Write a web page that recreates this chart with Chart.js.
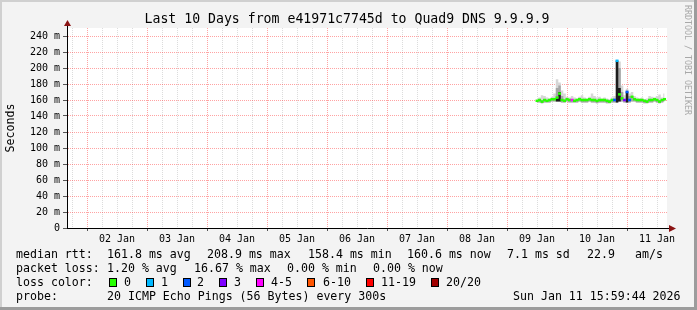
<!DOCTYPE html>
<html>
<head>
<meta charset="utf-8">
<script src="https://cdn.jsdelivr.net/npm/chart.js@4.4.1/dist/chart.umd.min.js"></script>
<style>
body { margin: 0; }
#wrap { position: relative; width: 697px; height: 310px; font-family: 'DejaVu Sans Mono', monospace; }
#wrap .t { position: absolute; font-size: 11.6px; line-height: 14px; white-space: pre; color: #000; }
#wrap .b { position: absolute; top: 278px; width: 6px; height: 7px; border: 1px solid #000; }
#title { position: absolute; left: 0; width: 694px; top: 11px; text-align: center; font-size: 13.2px; line-height: 16px; white-space: pre; color: #000; }
#mark { position: absolute; left: 683px; top: 5px; writing-mode: vertical-rl; font-size: 8.3px; color: #a8a8a8; white-space: pre; }
</style>
</head>
<body>
<div id="wrap">
<canvas id="c" width="697" height="310"></canvas>
<div id="title">Last 10 Days from e41971c7745d to Quad9 DNS 9.9.9.9</div>
<div id="mark">RRDTOOL / TOBI OETIKER</div>

<span class="t" style="left:16px;top:247px">median rtt:</span>
<span class="t" style="left:107px;top:247px">161.8 ms avg</span>
<span class="t" style="left:207px;top:247px">208.9 ms max</span>
<span class="t" style="left:308px;top:247px">158.4 ms min</span>
<span class="t" style="left:407px;top:247px">160.6 ms now</span>
<span class="t" style="left:507px;top:247px">7.1 ms sd</span>
<span class="t" style="left:587px;top:247px">22.9</span>
<span class="t" style="left:635px;top:247px">am/s</span>

<span class="t" style="left:16px;top:261px">packet loss:</span>
<span class="t" style="left:107px;top:261px">1.20 % avg</span>
<span class="t" style="left:194px;top:261px">16.67 % max</span>
<span class="t" style="left:287px;top:261px">0.00 % min</span>
<span class="t" style="left:373px;top:261px">0.00 % now</span>

<span class="t" style="left:16px;top:275px">loss color:</span>
<span class="b" style="left:109px;background:#26ff00"></span><span class="t" style="left:124px;top:275px">0</span>
<span class="b" style="left:146px;background:#00b8ff"></span><span class="t" style="left:161px;top:275px">1</span>
<span class="b" style="left:183px;background:#0059ff"></span><span class="t" style="left:197px;top:275px">2</span>
<span class="b" style="left:219px;background:#7e00ff"></span><span class="t" style="left:234px;top:275px">3</span>
<span class="b" style="left:256px;background:#ff00ff"></span><span class="t" style="left:271px;top:275px">4-5</span>
<span class="b" style="left:307px;background:#ff5500"></span><span class="t" style="left:323px;top:275px">6-10</span>
<span class="b" style="left:366px;background:#ff0000"></span><span class="t" style="left:381px;top:275px">11-19</span>
<span class="b" style="left:431px;background:#a10000"></span><span class="t" style="left:446px;top:275px">20/20</span>

<span class="t" style="left:16px;top:289px">probe:</span>
<span class="t" style="left:107px;top:289px">20 ICMP Echo Pings (56 Bytes) every 300s</span>
<span class="t" style="left:513px;top:289px">Sun Jan 11 15:59:44 2026</span>
</div>

<script>
// hours counted from 01 Jan 00:00, one sample per hour
const startHour = 204;          // 09 Jan 12:00
const viewStart = 15.983;       // 01 Jan 15:59
const viewEnd = 255.983;        // 11 Jan 15:59

const dayLabels = ['02 Jan', '03 Jan', '04 Jan', '05 Jan', '06 Jan', '07 Jan', '08 Jan', '09 Jan', '10 Jan', '11 Jan'];

// median rtt (ms)
const median = [159,160,158,160,159,160,161,161,163,168,
                160,159,161,160,160,159,160,161,160,160,
                160,161,160,160,159,160,160,160,159,158,
                160,160,209,167,162,160,170,160,164,161,
                160,160,160,159,158,160,160,161,160,158,
                160,161];
// lost pings out of 20
const lossCount = [0,0,0,0,0,0,0,0,0,0,
                   0,0,0,0,4,0,0,0,0,0,
                   0,0,0,0,0,0,0,0,0,0,
                   0,2,1,0,0,3,2,2,0,0,
                   0,0,0,0,0,0,0,0,0,0,
                   0,0];
// smoke bands (ms)
const smokeLow = [157,157,156,157,157,157,158,158,158,158,
                  157,157,158,157,157,157,157,158,157,157,
                  157,158,157,157,156,157,157,157,156,156,
                  157,157,157,158,158,157,157,157,158,158,
                  157,157,157,156,156,157,157,158,157,156,
                  157,158];
const smokeHigh = [161,163,166,165,163,162,164,168,186,182,
                   172,168,164,163,165,163,162,164,166,163,
                   162,164,168,165,163,164,162,163,162,161,
                   163,165,210,208,178,166,174,168,170,165,
                   163,162,163,161,162,165,164,163,165,167,
                   163,168];
const smokeMid = [160,161,160,161,160,161,162,162,175,178,
                  165,161,162,161,161,160,161,162,161,161,
                  161,162,161,161,160,161,161,161,160,160,
                  161,162,209,200,170,161,172,165,165,162,
                  161,161,161,160,160,161,161,162,161,160,
                  161,162];
const smokeDark = [157,157,156,157,157,157,158,158,162,170,
                   157,157,158,157,157,157,157,158,157,157,
                   157,158,157,157,156,157,157,157,156,156,
                   157,157,209,175,158,157,170,157,158,158,
                   157,157,157,156,156,157,157,158,157,156,
                   157,158];

const lossLimits = [0, 1, 2, 3, 5, 10, 19, 20];
const lossColors = ['#26ff00', '#00b8ff', '#0059ff', '#7e00ff', '#ff00ff', '#ff5500', '#ff0000', '#a10000'];

function lossColor(n) {
  for (let i = 0; i < lossLimits.length; i++) {
    if (n <= lossLimits[i]) return lossColors[i];
  }
  return lossColors[lossColors.length - 1];
}

const pts = arr => arr.map((v, i) => ({ x: startHour + i, y: v }));

const xTicks = [];
for (let h = 18; h < viewEnd; h += 6) xTicks.push(h);

const MAJOR = 'rgba(255,0,0,0.36)';
const MINOR = 'rgba(120,120,120,0.26)';
const mono = 'DejaVu Sans Mono';

const frame = {
  id: 'frame',
  beforeDraw(chart) {
    const { ctx, chartArea: a, width, height } = chart;
    ctx.save();
    ctx.fillStyle = '#f3f3f3';
    ctx.fillRect(0, 0, width, height);
    ctx.fillStyle = '#d0d0d0';
    ctx.fillRect(0, 0, width, 2);
    ctx.fillRect(0, 0, 2, height);
    ctx.fillStyle = '#9c9c9c';
    ctx.fillRect(0, height - 3, width, 3);
    ctx.fillRect(width - 3, 0, 3, height);
    ctx.fillStyle = '#fff';
    ctx.fillRect(a.left, a.top, a.right - a.left, a.bottom - a.top);
    ctx.restore();
  },
  afterDraw(chart) {
    const { ctx, chartArea: a } = chart;
    const x0 = Math.round(a.left) + 0.5, y0 = Math.round(a.bottom) + 0.5;
    ctx.save();
    ctx.strokeStyle = '#000';
    ctx.lineWidth = 1;
    ctx.beginPath();
    ctx.moveTo(x0, a.top); ctx.lineTo(x0, a.top - 3);
    ctx.moveTo(a.right, y0); ctx.lineTo(a.right + 3, y0);
    ctx.stroke();
    ctx.fillStyle = '#8b1414';
    ctx.beginPath();
    ctx.moveTo(x0, a.top - 8); ctx.lineTo(x0 - 3.5, a.top - 2); ctx.lineTo(x0 + 3.5, a.top - 2);
    ctx.fill();
    ctx.beginPath();
    ctx.moveTo(a.right + 9, y0); ctx.lineTo(a.right + 2, y0 - 3.5); ctx.lineTo(a.right + 2, y0 + 3.5);
    ctx.fill();
    ctx.restore();
  }
};

new Chart(document.getElementById('c'), {
  type: 'line',
  data: {
    datasets: [
      {
        label: 'median rtt',
        data: pts(median),
        showLine: false,
        pointStyle: 'line',
        pointRadius: 1.5,
        pointBorderWidth: 2.5,
        pointBorderColor: ctx => lossColor(lossCount[ctx.dataIndex]),
        order: 0
      },
      {
        label: 'smoke dark',
        data: pts(smokeDark),
        stepped: 'middle',
        borderWidth: 0,
        pointRadius: 0,
        backgroundColor: '#1c1c1c',
        fill: 4,
        order: 1
      },
      {
        label: 'smoke mid',
        data: pts(smokeMid),
        stepped: 'middle',
        borderWidth: 0,
        pointRadius: 0,
        backgroundColor: '#a6a6a6',
        fill: 4,
        order: 2
      },
      {
        label: 'smoke high',
        data: pts(smokeHigh),
        stepped: 'middle',
        borderWidth: 0,
        pointRadius: 0,
        backgroundColor: '#d6d6d6',
        fill: 4,
        order: 3
      },
      {
        label: 'smoke low',
        data: pts(smokeLow),
        stepped: 'middle',
        borderWidth: 0,
        pointRadius: 0,
        fill: false,
        order: 4
      }
    ]
  },
  options: {
    responsive: false,
    animation: false,
    devicePixelRatio: 1,
    layout: { padding: { left: 0, right: 30, top: 28, bottom: 62 } },
    plugins: {
      legend: { display: false },
      tooltip: { enabled: false },
      title: { display: false }
    },
    scales: {
      x: {
        type: 'linear',
        min: viewStart,
        max: viewEnd,
        afterBuildTicks: scale => { scale.ticks = xTicks.map(v => ({ value: v })); },
        afterFit: scale => { scale.height = 20; },
        ticks: {
          autoSkip: false,
          maxRotation: 0,
          padding: 2,
          color: '#000',
          font: { family: mono, size: 10 },
          callback: v => (v % 24 === 12 ? dayLabels[(v - 36) / 24] || '' : '')
        },
        grid: {
          color: ctx => (ctx.tick && ctx.tick.value % 24 === 0 ? MAJOR : MINOR),
          tickLength: 3,
          tickColor: ctx => (ctx.tick && ctx.tick.value % 24 === 0 ? '#555' : 'rgba(0,0,0,0)')
        },
        border: { color: '#000', width: 1, dash: [1, 1] }
      },
      y: {
        min: 0,
        max: 250,
        afterFit: scale => { scale.width = 67; },
        ticks: {
          stepSize: 10,
          padding: 3,
          color: '#000',
          font: { family: mono, size: 10 },
          callback: v => (v === 0 ? '0' : v % 20 === 0 ? v + ' m' : '')
        },
        grid: {
          color: ctx => (ctx.tick && ctx.tick.value % 20 === 0 ? MAJOR : MINOR),
          tickLength: 4,
          tickColor: ctx => (ctx.tick && ctx.tick.value % 20 === 0 ? '#555' : 'rgba(0,0,0,0)')
        },
        border: { color: '#000', width: 1, dash: [1, 1] },
        title: {
          display: true,
          text: 'Seconds',
          color: '#000',
          font: { family: mono, size: 11.6 },
          padding: { top: 4, bottom: 0 }
        }
      }
    }
  },
  plugins: [frame]
});
</script>
</body>
</html>
